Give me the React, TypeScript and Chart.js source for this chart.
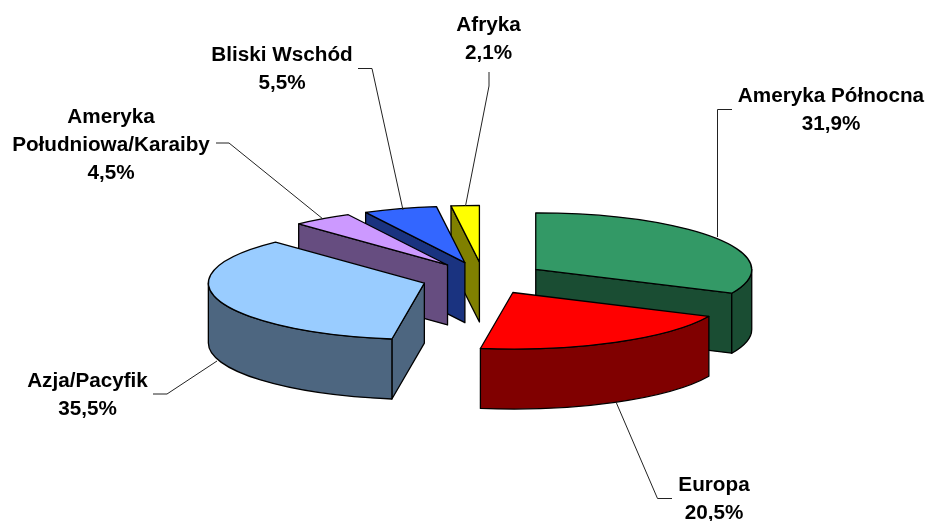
import React, { useEffect, useRef } from "react";
import { Chart, registerables } from "chart.js";

Chart.register(...registerables);

const regions = ["Ameryka Północna", "Europa", "Azja/Pacyfik", "Ameryka Południowa/Karaiby", "Bliski Wschód", "Afryka"];
const shares = [31.9, 20.5, 35.5, 4.5, 5.5, 2.1];
const topColors = ["#339966", "#ff0000", "#99ccff", "#cc99ff", "#3366ff", "#ffff00"];
const wallColors = ["#1a4d33", "#800000", "#4d6680", "#664d80", "#1a3380", "#808000"];

// Label lines (name lines without the value), centre x and first text line y.
const labelLines = [["Ameryka Północna"], ["Europa"], ["Azja/Pacyfik"], ["Ameryka", "Południowa/Karaiby"], ["Bliski Wschód"], ["Afryka"]];
const labelAnchors = [[831, 96], [714, 485], [87.5, 381], [111, 117], [282, 55], [488.5, 25]];
const leaderLines = [
  [[732, 109.5], [717.5, 109.5], [717.5, 237]],
  [[672, 498.5], [657.5, 498.5], [616, 402]],
  [[153, 394], [167, 394], [217, 361]],
  [[216, 143], [229, 143], [323, 219]],
  [[358, 68.5], [372, 68.5], [403, 210]],
  [[489, 72], [489, 86], [465.5, 206]],
];

const SQUASH = 0.262;
const DEPTH = 60;
const EXPLODE = 62;
const RADIUS = 216;
const FONT = 'bold 20.7px "Liberation Sans", Arial, sans-serif';
const LINE_STEP = 28;

const pie3d = {
  id: "pie3d",
  beforeDatasetDraw(chart: any) {
    const ctx: CanvasRenderingContext2D = chart.ctx;
    const arcs = chart.getDatasetMeta(0).data;
    const items = arcs.map((arc: any, i: number) => {
      const { x, y, startAngle: a0, endAngle: a1, outerRadius: r } = arc.getProps(["x", "y", "startAngle", "endAngle", "outerRadius"], true);
      const mid = (a0 + a1) / 2;
      const X = x + Math.cos(mid) * EXPLODE;
      const Y = y + Math.sin(mid) * EXPLODE * SQUASH;
      return { arc, i, a0, a1, r, x, y, X, Y };
    });
    items.sort((p: any, q: any) => p.Y - q.Y);
    ctx.save();
    ctx.lineWidth = 1.3;
    ctx.strokeStyle = "#000";
    ctx.lineJoin = "round";
    for (const s of items) {
      const pt = (t: number, dz = 0) => [s.X + s.r * Math.cos(t), s.Y + s.r * SQUASH * Math.sin(t) + dz];
      ctx.fillStyle = wallColors[s.i];
      const face = (t: number) => {
        const p = pt(t);
        ctx.beginPath();
        ctx.moveTo(s.X, s.Y);
        ctx.lineTo(p[0], p[1]);
        ctx.lineTo(p[0], p[1] + DEPTH);
        ctx.lineTo(s.X, s.Y + DEPTH);
        ctx.closePath();
        ctx.fill();
        ctx.stroke();
      };
      if (Math.cos(s.a0) < -1e-6) face(s.a0);
      if (Math.cos(s.a1) > 1e-6) face(s.a1);
      const from = Math.max(s.a0, 0);
      const to = Math.min(s.a1, Math.PI);
      if (to > from) {
        ctx.beginPath();
        ctx.ellipse(s.X, s.Y, s.r, s.r * SQUASH, 0, from, to);
        ctx.ellipse(s.X, s.Y + DEPTH, s.r, s.r * SQUASH, 0, to, from, true);
        ctx.closePath();
        ctx.fill();
        ctx.stroke();
      }
      // Top surface: the library's own arc element, seen in perspective.
      ctx.save();
      ctx.translate(s.X, s.Y);
      ctx.scale(1, SQUASH);
      ctx.translate(-s.x, -s.y);
      s.arc.draw(ctx);
      ctx.restore();
      ctx.beginPath();
      ctx.moveTo(s.X, s.Y);
      ctx.ellipse(s.X, s.Y, s.r, s.r * SQUASH, 0, s.a0, s.a1);
      ctx.closePath();
      ctx.stroke();
    }
    ctx.restore();
    return false;
  },
  afterDraw(chart: any) {
    const ctx: CanvasRenderingContext2D = chart.ctx;
    ctx.save();
    ctx.strokeStyle = "#222";
    ctx.lineWidth = 1;
    for (const line of leaderLines) {
      ctx.beginPath();
      line.forEach((p, k) => (k ? ctx.lineTo(p[0], p[1]) : ctx.moveTo(p[0], p[1])));
      ctx.stroke();
    }
    ctx.fillStyle = "#000";
    ctx.font = FONT;
    ctx.textAlign = "center";
    ctx.textBaseline = "middle";
    labelLines.forEach((lines, i) => {
      const [cx, cy] = labelAnchors[i];
      const all = [...lines, shares[i].toFixed(1).replace(".", ",") + "%"];
      all.forEach((t, k) => ctx.fillText(t, cx, cy + k * LINE_STEP));
    });
    ctx.restore();
  },
};

export default function App() {
  const ref = useRef<HTMLCanvasElement>(null);
  useEffect(() => {
    const chart = new Chart(ref.current!, {
      type: "pie",
      data: {
        labels: regions,
        datasets: [{ data: shares, backgroundColor: topColors, borderWidth: 0, radius: RADIUS } as any],
      },
      options: {
        responsive: false,
        animation: false,
        layout: { padding: { left: 40, top: 35.4 } },
        plugins: { legend: { display: false }, tooltip: { enabled: false } },
      },
      plugins: [pie3d as any],
    });
    return () => chart.destroy();
  }, []);
  return (
    <div style={{ position: "absolute", left: 0, top: 0, width: 927, height: 521, background: "#fff" }}>
      <canvas ref={ref} width={927} height={521} style={{ display: "block" }} />
    </div>
  );
}
